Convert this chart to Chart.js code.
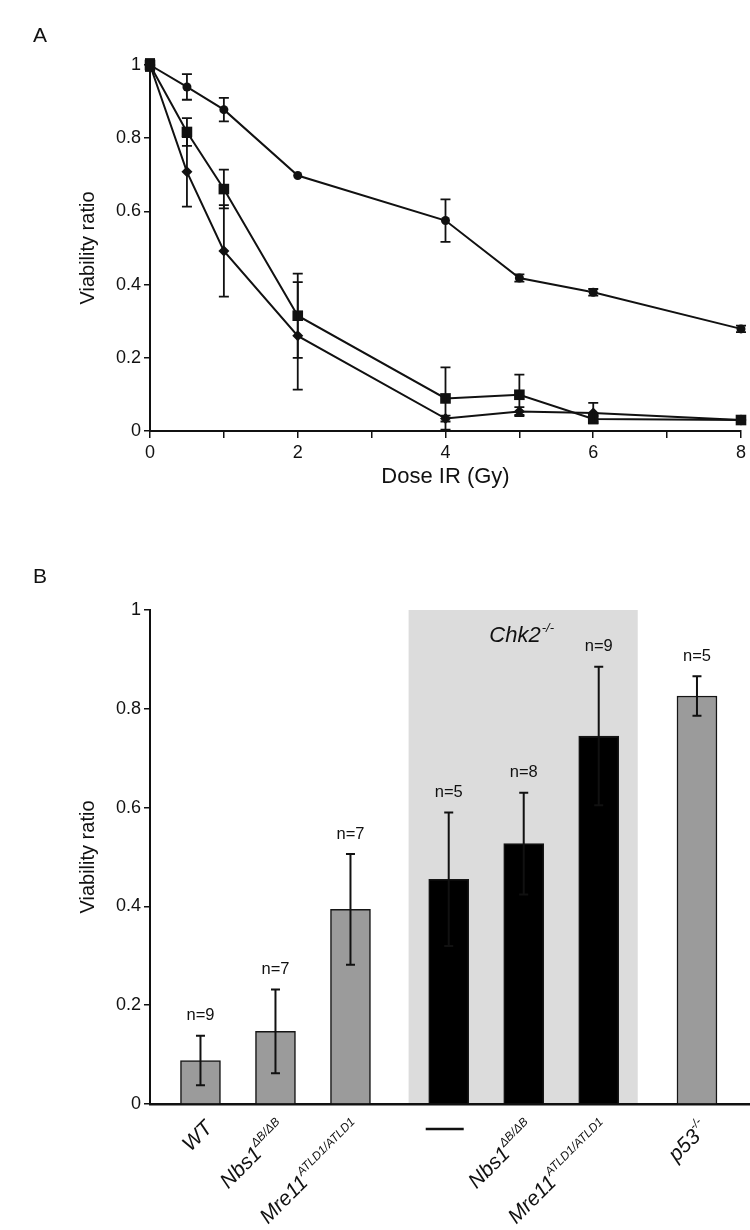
<!DOCTYPE html>
<html>
<head>
<meta charset="utf-8">
<script src="https://cdn.jsdelivr.net/npm/chart.js@4.4.1/dist/chart.umd.min.js"></script>
<style>
  body { margin: 0; background: #fff; width: 750px; height: 1230px; position: relative; overflow: hidden; }
  canvas { position: absolute; left: 0; }
  #chartA { top: 0; }
  #chartB { top: 510px; }
</style>
</head>
<body>
<canvas id="chartA" width="750" height="510"></canvas>
<canvas id="chartB" width="750" height="720"></canvas>
<script>
// Painel A: viabilidade x dose
const doses = [0, 0.5, 1, 2, 4, 5, 6, 8];
const circleMean = [1, 0.94, 0.878, 0.698, 0.575, 0.418, 0.379, 0.279];
const circleErr = [0.015, 0.035, 0.032, 0, 0.058, 0.01, 0.009, 0.009];
const squareMean = [1, 0.817, 0.661, 0.315, 0.089, 0.099, 0.033, 0.03];
const squareErr = [0.015, 0.038, 0.053, 0.115, 0.085, 0.055, 0.008, 0.005];
const diamondMean = [1, 0.708, 0.492, 0.26, 0.034, 0.053, 0.049, 0.03];
const diamondErr = [0.015, 0.095, 0.125, 0.147, 0.008, 0.012, 0.028, 0.005];

// Painel B: viabilidade por genótipo
const genotypes = ['WT', 'Nbs1', 'Mre11', '—', 'Nbs1', 'Mre11', 'p53'];
const superscripts = ['', 'ΔB/ΔB', 'ATLD1/ATLD1', '', 'ΔB/ΔB', 'ATLD1/ATLD1', '-/-'];
const viability = [0.088, 0.147, 0.394, 0.455, 0.527, 0.745, 0.826];
const viabilityErr = [0.05, 0.085, 0.112, 0.135, 0.103, 0.14, 0.04];
const sampleN = [9, 7, 7, 5, 8, 9, 5];
const chk2Null = [false, false, false, true, true, true, false];

Chart.defaults.font.family = '"Liberation Sans", Arial, Helvetica, sans-serif';
Chart.defaults.color = '#111';
Chart.defaults.animation = false;

const INK = '#111';
const FONT = '"Liberation Sans", Arial, sans-serif';

// Barras de erro (desvio para cima e para baixo)
const errorBars = {
  id: 'errorBars',
  afterDatasetsDraw(chart, args, opts) {
    const { ctx, scales: { y } } = chart;
    ctx.save();
    ctx.strokeStyle = INK;
    ctx.lineWidth = opts.lineWidth;
    chart.data.datasets.forEach((ds, di) => {
      const meta = chart.getDatasetMeta(di);
      meta.data.forEach((el, i) => {
        const e = ds.errors[i];
        if (!e) return;
        const v = ds.data[i].y;
        const top = y.getPixelForValue(v + e);
        const bot = y.getPixelForValue(v - e);
        const w = opts.cap;
        ctx.beginPath();
        ctx.moveTo(el.x, top); ctx.lineTo(el.x, bot);
        ctx.moveTo(el.x - w, top); ctx.lineTo(el.x + w, top);
        ctx.moveTo(el.x - w, bot); ctx.lineTo(el.x + w, bot);
        ctx.stroke();
      });
    });
    ctx.restore();
  }
};

// Letra do painel
function panelLetter(letter, x, y) {
  return {
    id: 'letter' + letter,
    afterDraw(chart) {
      const ctx = chart.ctx;
      ctx.save();
      ctx.fillStyle = INK;
      ctx.font = '21px ' + FONT;
      ctx.textAlign = 'center';
      ctx.textBaseline = 'middle';
      ctx.fillText(letter, x, y);
      ctx.restore();
    }
  };
}

function series(mean, err, style, radius) {
  return {
    data: doses.map((d, i) => ({ x: d, y: mean[i] })),
    errors: err,
    borderColor: INK,
    borderWidth: 2,
    pointStyle: style,
    pointRadius: radius,
    pointBackgroundColor: INK,
    pointBorderColor: INK,
    pointBorderWidth: 0,
    tension: 0,
    clip: false
  };
}

function yAxis() {
  return {
    min: 0, max: 1,
    afterFit: s => { s.width = 150; },
    ticks: { stepSize: 0.2, padding: 3, font: { size: 18 }, color: INK,
             callback: v => String(+v.toFixed(1)) },
    grid: { display: true, drawOnChartArea: false, tickLength: 6, color: INK, lineWidth: 1.5 },
    border: { display: true, color: INK, width: 2 },
    title: { display: true, text: 'Viability ratio', font: { size: 20 }, color: INK, padding: { top: 76, bottom: 0 } }
  };
}

// Gráfico A
new Chart(document.getElementById('chartA'), {
  type: 'line',
  data: {
    datasets: [
      series(circleMean, circleErr, 'circle', 4.5),
      series(squareMean, squareErr, 'rect', 7.5),
      series(diamondMean, diamondErr, 'rectRot', 5.5)
    ]
  },
  options: {
    responsive: false,
    devicePixelRatio: 1,
    layout: { padding: { top: 65, right: 5, left: 0, bottom: 0 } },
    plugins: {
      legend: { display: false },
      tooltip: { enabled: false },
      errorBars: { lineWidth: 1.8, cap: 5 }
    },
    scales: {
      x: {
        type: 'linear', min: 0, max: 8,
        afterFit: s => { s.height = 79; },
        ticks: { stepSize: 1, autoSkip: false, maxRotation: 0, padding: 4, font: { size: 18 }, color: INK,
                 callback: v => (v % 2 === 0 ? v : '') },
        grid: { display: true, drawOnChartArea: false, tickLength: 7, color: INK, lineWidth: 1.5 },
        border: { display: true, color: INK, width: 2 },
        title: { display: true, text: 'Dose IR (Gy)', font: { size: 22 }, color: INK, padding: { top: 0, bottom: 20 } }
      },
      y: yAxis()
    }
  },
  plugins: [errorBars, panelLetter('A', 40, 36)]
});

// Posição das barras: grupos separados por um espaço extra
const groupGap = 0.31;
const positions = genotypes.map((_, i) => 1 + i + (i >= 3 ? groupGap : 0) + (i >= 6 ? groupGap : 0));

const panelB = {
  id: 'panelB',
  beforeDatasetsDraw(chart) {
    const { ctx, scales: { x, y } } = chart;
    const left = x.getPixelForValue(positions[3] - 0.535);
    const right = x.getPixelForValue(positions[5] + 0.52);
    const top = y.getPixelForValue(1);
    const bottom = y.getPixelForValue(0) - 1;
    ctx.save();
    ctx.fillStyle = '#dcdcdc';
    ctx.fillRect(left, top, right - left, bottom - top);
    // rótulo Chk2-/-
    ctx.fillStyle = INK;
    ctx.textBaseline = 'alphabetic';
    ctx.font = 'italic 22px ' + FONT;
    const main = 'Chk2', sup = '-/-';
    const wm = ctx.measureText(main).width;
    ctx.font = 'italic 13px ' + FONT;
    const ws = ctx.measureText(sup).width;
    const cx = (left + right) / 2 - 2;
    const x0 = cx - (wm + ws) / 2;
    ctx.font = 'italic 22px ' + FONT;
    ctx.fillText(main, x0, top + 32);
    ctx.font = 'italic 13px ' + FONT;
    ctx.fillText(sup, x0 + wm + 1, top + 22);
    ctx.restore();
  },
  afterDatasetsDraw(chart) {
    const { ctx, scales: { x, y } } = chart;
    const axisY = y.getPixelForValue(0);
    ctx.save();
    ctx.fillStyle = INK;
    positions.forEach((p, i) => {
      const cx = x.getPixelForValue(p);
      // n=
      ctx.font = '16.5px ' + FONT;
      ctx.textAlign = 'center';
      ctx.textBaseline = 'middle';
      ctx.fillText('n=' + sampleN[i], cx, y.getPixelForValue(viability[i] + viabilityErr[i]) - 20);
      // rótulo do eixo x
      if (genotypes[i] === '—') {
        ctx.strokeStyle = INK;
        ctx.lineWidth = 2.5;
        ctx.beginPath();
        ctx.moveTo(cx - 23, axisY + 25);
        ctx.lineTo(cx + 15, axisY + 25);
        ctx.stroke();
        return;
      }
      ctx.save();
      ctx.translate(cx + 9, axisY + 21);
      ctx.rotate(-Math.PI / 4);
      ctx.textAlign = 'left';
      ctx.textBaseline = 'middle';
      ctx.font = 'italic 21px ' + FONT;
      const wm = ctx.measureText(genotypes[i]).width;
      ctx.font = 'italic 12px ' + FONT;
      const ws = superscripts[i] ? ctx.measureText(superscripts[i]).width + 1 : 0;
      ctx.font = 'italic 21px ' + FONT;
      ctx.fillText(genotypes[i], -(wm + ws), 0);
      if (superscripts[i]) {
        ctx.font = 'italic 12px ' + FONT;
        ctx.fillText(superscripts[i], -ws, -8);
      }
      ctx.restore();
    });
    ctx.restore();
  }
};

// Gráfico B
new Chart(document.getElementById('chartB'), {
  type: 'bar',
  data: {
    datasets: [{
      data: positions.map((p, i) => ({ x: p, y: viability[i] })),
      errors: viabilityErr,
      backgroundColor: chk2Null.map(c => (c ? '#000' : '#9b9b9b')),
      borderColor: '#151515',
      borderWidth: 1.5,
      barThickness: 40
    }]
  },
  options: {
    responsive: false,
    devicePixelRatio: 1,
    layout: { padding: { top: 100, right: 0, left: 0, bottom: 0 } },
    plugins: {
      legend: { display: false },
      tooltip: { enabled: false },
      errorBars: { lineWidth: 2, cap: 4.5 }
    },
    scales: {
      x: {
        type: 'linear', min: 0.327, max: 8.327, offset: false,
        afterFit: s => { s.height = 126; },
        ticks: { display: false },
        grid: { display: false },
        border: { display: true, color: INK, width: 2.5 }
      },
      y: yAxis()
    }
  },
  plugins: [panelB, errorBars, panelLetter('B', 40, 67)]
});
</script>
</body>
</html>
